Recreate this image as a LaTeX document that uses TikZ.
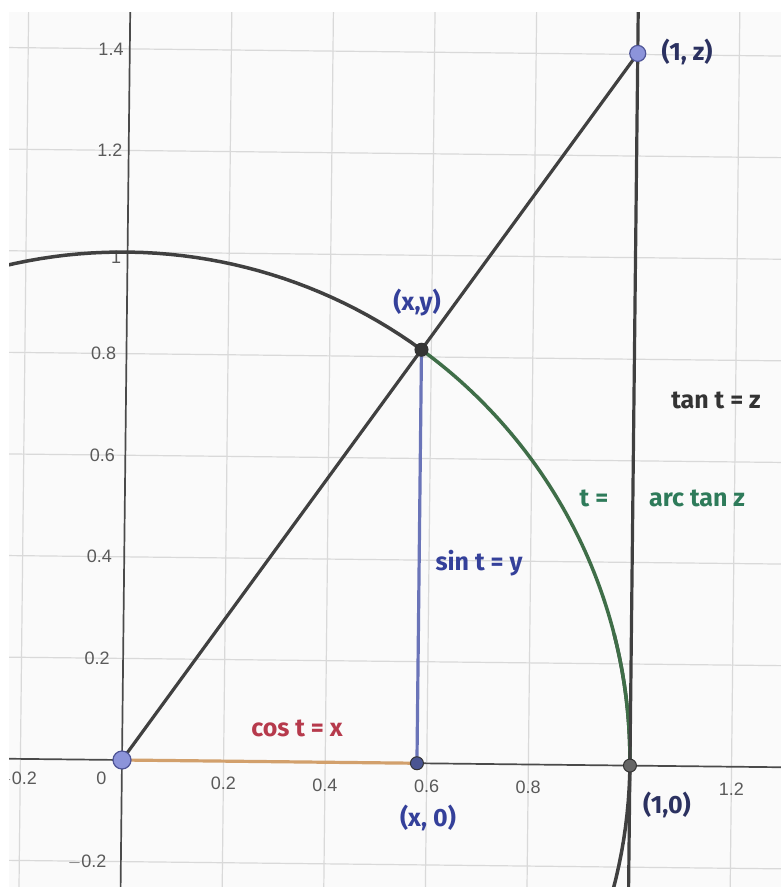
\documentclass[tikz,border=0pt]{standalone}
\usepackage{fontspec}
\setmainfont{Liberation Sans}
\newfontfamily\hand{Fira Sans}
\definecolor{plotbg}{HTML}{FAFAFA}
\definecolor{gridc}{HTML}{D9D9D9}
\definecolor{axisc}{HTML}{4A4A4A}
\definecolor{tickc}{HTML}{5A5A5A}
\definecolor{darkline}{HTML}{404040}
\definecolor{arcgreen}{HTML}{3F6E48}
\definecolor{sinblue}{HTML}{6A74B8}
\definecolor{cosorange}{HTML}{D2A06C}
\definecolor{ptlight}{HTML}{8C94DA}
\definecolor{ptlightedge}{HTML}{4E5496}
\definecolor{ptdark}{HTML}{353535}
\definecolor{ptblue}{HTML}{4A5592}
\definecolor{navy}{HTML}{2B3160}
\definecolor{penblue}{HTML}{34409A}
\definecolor{pengreen}{HTML}{2E7B5A}
\definecolor{penred}{HTML}{B63A4C}
\definecolor{penblack}{HTML}{333333}
\tikzset{
  gridline/.style={gridc, line width=1.2pt},
  axisline/.style={axisc, line width=1.7pt},
  ticklab/.style={text=tickc, font=\fontsize{18}{18}\selectfont, inner sep=0pt},
  circdark/.style={darkline, line width=3.5pt},
  circgreen/.style={arcgreen, line width=3.5pt},
  segdark/.style={darkline, line width=3.2pt},
  segblue/.style={sinblue, line width=3.2pt},
  segorange/.style={cosorange, line width=3.2pt},
  ptbig/.style={circle, fill=ptlight, draw=ptlightedge, line width=1.2pt, minimum size=18pt, inner sep=0pt},
  ptsmall/.style={circle, fill=#1, draw=black!80, line width=1pt, minimum size=13pt, inner sep=0pt},
  hw/.style={font=\hand\bfseries\fontsize{25}{25}\selectfont, inner sep=0pt, text=#1}
}
\begin{document}
\begin{tikzpicture}
\useasboundingbox (0,-887pt) rectangle (781pt,0);
\fill[white] (0,-887pt) rectangle (781pt,0);
\begin{scope}
\clip (9pt,-887pt) rectangle (781pt,-12pt);
\fill[plotbg] (9pt,-887pt) rectangle (781pt,-12pt);
\begin{scope}[shift={(122pt,-760pt)}, rotate=-0.63, x=508pt, y=508pt]
  % grid
  \foreach \g in {-0.4,-0.2,0.2,0.4,0.6,0.8,1.0,1.2,1.4}
    \draw[gridline] (\g,-0.5) -- (\g,1.7);
  \foreach \g in {-0.4,-0.2,0.2,0.4,0.6,0.8,1.0,1.2,1.4,1.6}
    \draw[gridline] (-0.5,\g) -- (1.6,\g);
  % axes
  \coordinate (xl) at (-0.5,0);
  \coordinate (xr) at (1.6,0);
  \coordinate (yb) at (0,-0.5);
  \coordinate (yt) at (0,1.7);
  \draw[axisline] (xl) -- (xr);
  \draw[axisline] (yb) -- (yt);
  % tick labels
  \node[ticklab] (tx0) at (-0.04,-0.036) {0};
  \node[ticklab] (txm2) at (-0.205,-0.04) {$-$0.2};
  \node[ticklab] (tx2) at (0.2,-0.043) {0.2};
  \node[ticklab] (tx4) at (0.4,-0.045) {0.4};
  \node[ticklab] (tx6) at (0.6,-0.045) {0.6};
  \node[ticklab] (tx8) at (0.8,-0.045) {0.8};
  \node[ticklab] (tx12) at (1.2,-0.045) {1.2};
  \node[ticklab, anchor=east] (ty14) at (-0.012,1.4) {1.4};
  \node[ticklab, anchor=east] (ty12) at (-0.012,1.2) {1.2};
  \node[ticklab, anchor=east] (ty1) at (-0.012,0.99) {1};
  \node[ticklab, anchor=east] (ty8) at (-0.02,0.8) {0.8};
  \node[ticklab, anchor=east] (ty6) at (-0.02,0.6) {0.6};
  \node[ticklab, anchor=east] (ty4) at (-0.024,0.4) {0.4};
  \node[ticklab, anchor=east] (ty2) at (-0.026,0.2) {0.2};
  \node[ticklab, anchor=east] (tym2) at (-0.028,-0.2) {$-$0.2};
  % key points
  \coordinate (O) at (0,0);
  \coordinate (P) at (54.5:1);
  \coordinate (Q) at ({cos(54.5)},0);
  \coordinate (A) at (1,0);
  \coordinate (T) at (1,{tan(54.5)});
  \coordinate (Abot) at (1,-0.5);
  \coordinate (Atop) at (1,1.7);
  % unit circle
  \draw[circdark] plot[domain=54.5:375, samples=220] ({cos(\x)},{sin(\x)});
  \draw[circgreen] plot[domain=0:54.5, samples=60] ({cos(\x)},{sin(\x)});
  % lines
  \draw[segdark] (Abot) -- (Atop);
  \draw[segdark] (O) -- (T);
  \draw[segorange] (O) -- (Q);
  \draw[segblue] (Q) -- (P);
  % points
  \node[ptbig] (nO) at (O) {};
  \node[ptbig, minimum size=16pt] (nT) at (T) {};
  \node[ptsmall=ptdark] (nP) at (P) {};
  \node[ptsmall=ptblue] (nQ) at (Q) {};
  \node[ptsmall=black!60] (nA) at (A) {};
\end{scope}
\end{scope}
% handwritten labels
\node[hw=navy] (l1) at (687pt,-52pt) {(1, z)};
\node[hw=penblue] (l2) at (417pt,-303pt) {(x,y)};
\node[hw=penblack] (l3) at (716pt,-400pt) {tan t = z};
\node[hw=pengreen] (l4a) at (594pt,-498pt) {t =};
\node[hw=pengreen] (l4b) at (697pt,-498pt) {arc tan z};
\node[hw=penblue] (l5) at (479pt,-563pt) {sin t = y};
\node[hw=penred] (l6) at (297pt,-728pt) {cos t = x};
\node[hw=penblue] (l7) at (428pt,-818pt) {(x, 0)};
\node[hw=navy] (l8) at (667pt,-805pt) {(1,0)};
\end{tikzpicture}
\end{document}
